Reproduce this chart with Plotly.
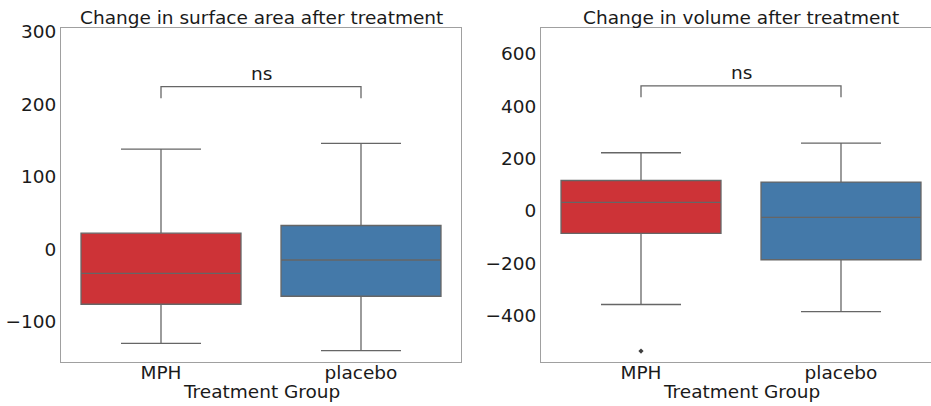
import plotly.graph_objects as go

# ---- data ----
groups = ["MPH", "placebo"]
colors = ["#cd3337", "#4479a9"]

# surface area change (left)
sa_lower = [-130, -140]
sa_q1 = [-76, -65]
sa_median = [-33.5, -15]
sa_q3 = [22, 32.6]
sa_upper = [138, 146]
sa_outliers = [[], []]
sa_bracket = [208, 224]   # tip bottom, bar top

# volume change (right)
vol_lower = [-358, -385]
vol_q1 = [-86, -187]
vol_median = [32, -25]
vol_q3 = [116, 110]
vol_upper = [222, 259]
vol_outliers = [[-536], []]
vol_bracket = [434, 478]

sa_ticks = [-100, 0, 100, 200, 300]
vol_ticks = [-400, -200, 0, 200, 400, 600]

titles = ["Change in surface area after treatment", "Change in volume after treatment"]
xlabel = "Treatment Group"
sig_label = "ns"

W, H = 931, 406
FONT = "DejaVu Sans"
FS = 18.5
LINE = "#666666"
AX = "#a0a0a0"
TXT = "#1a1a1a"

fig = go.Figure()

def add_panel(xa, ya, lower, q1, med, q3, upper, outl, bracket):
    for i, g in enumerate(groups):
        fig.add_trace(go.Box(
            x=[g], q1=[q1[i]], median=[med[i]], q3=[q3[i]],
            lowerfence=[lower[i]], upperfence=[upper[i]],
            fillcolor=colors[i], line=dict(color=LINE, width=1.3),
            width=0.8, whiskerwidth=0.5, boxpoints=False,
            xaxis=xa, yaxis=ya, showlegend=False, hoverinfo="skip"))
        if outl[i]:
            fig.add_trace(go.Scatter(
                x=[g] * len(outl[i]), y=outl[i], mode="markers",
                marker=dict(symbol="diamond", size=4, color="#3f3f3f"),
                xaxis=xa, yaxis=ya, showlegend=False, hoverinfo="skip"))
    fig.add_trace(go.Scatter(
        x=[groups[0], groups[0], groups[1], groups[1]],
        y=[bracket[0], bracket[1], bracket[1], bracket[0]],
        mode="lines", line=dict(color=LINE, width=1.3),
        xaxis=xa, yaxis=ya, showlegend=False, hoverinfo="skip"))

add_panel("x", "y", sa_lower, sa_q1, sa_median, sa_q3, sa_upper, sa_outliers, sa_bracket)
add_panel("x2", "y2", vol_lower, vol_q1, vol_median, vol_q3, vol_upper, vol_outliers, vol_bracket)

ytop = 1 - 28 / H
ybot = 1 - 361.5 / H
d1 = [61 / W, 461 / W]
d2 = [541 / W, 1.0]

tickfont = dict(family=FONT, size=FS, color=TXT)
common_x = dict(type="category", showgrid=False, showline=True, linecolor=AX, linewidth=1.2,
                ticks="", tickfont=tickfont, zeroline=False, automargin=False,
                ticklabelstandoff=-6)
common_y = dict(showgrid=False, showline=True, linecolor=AX, linewidth=1.2,
                ticks="", tickfont=tickfont, zeroline=False, automargin=False)

fig.update_layout(
    template="none",
    width=W, height=H, autosize=False,
    margin=dict(l=0, r=0, t=0, b=0, pad=0),
    paper_bgcolor="white", plot_bgcolor="white",
    font=dict(family=FONT, color=TXT),
    showlegend=False,
    xaxis=dict(domain=d1, range=[-0.5, 1.5], mirror=True, anchor="y", **common_x),
    yaxis=dict(domain=[ybot, ytop], range=[-155, 305], tickvals=sa_ticks, mirror=True,
               anchor="x", **common_y),
    xaxis2=dict(domain=d2, range=[-0.5, 1.45], mirror=True, anchor="y2", **common_x),
    yaxis2=dict(domain=[ybot, ytop], range=[-576, 699], tickvals=vol_ticks,
                anchor="x2", **common_y),
)

ann = []
for left_px, t in zip([61, 541], titles):
    cx = (left_px + 200) / W
    ann.append(dict(text=t, x=cx, y=1 - 17.7 / H, xref="paper", yref="paper",
                    xanchor="center", yanchor="middle", showarrow=False,
                    font=dict(family=FONT, size=FS, color=TXT)))
    ann.append(dict(text=xlabel, x=cx, y=1 - 391.3 / H, xref="paper", yref="paper",
                    xanchor="center", yanchor="middle", showarrow=False,
                    font=dict(family=FONT, size=FS, color=TXT)))
for xa, ya, br in [("x", "y", sa_bracket), ("x2", "y2", vol_bracket)]:
    ann.append(dict(text=sig_label, x=0.5, y=br[1], xref=xa, yref=ya, xanchor="center",
                    yanchor="middle", yshift=13, showarrow=False,
                    font=dict(family=FONT, size=FS, color=TXT)))
fig.update_layout(annotations=ann)

fig.write_html("out.html")
